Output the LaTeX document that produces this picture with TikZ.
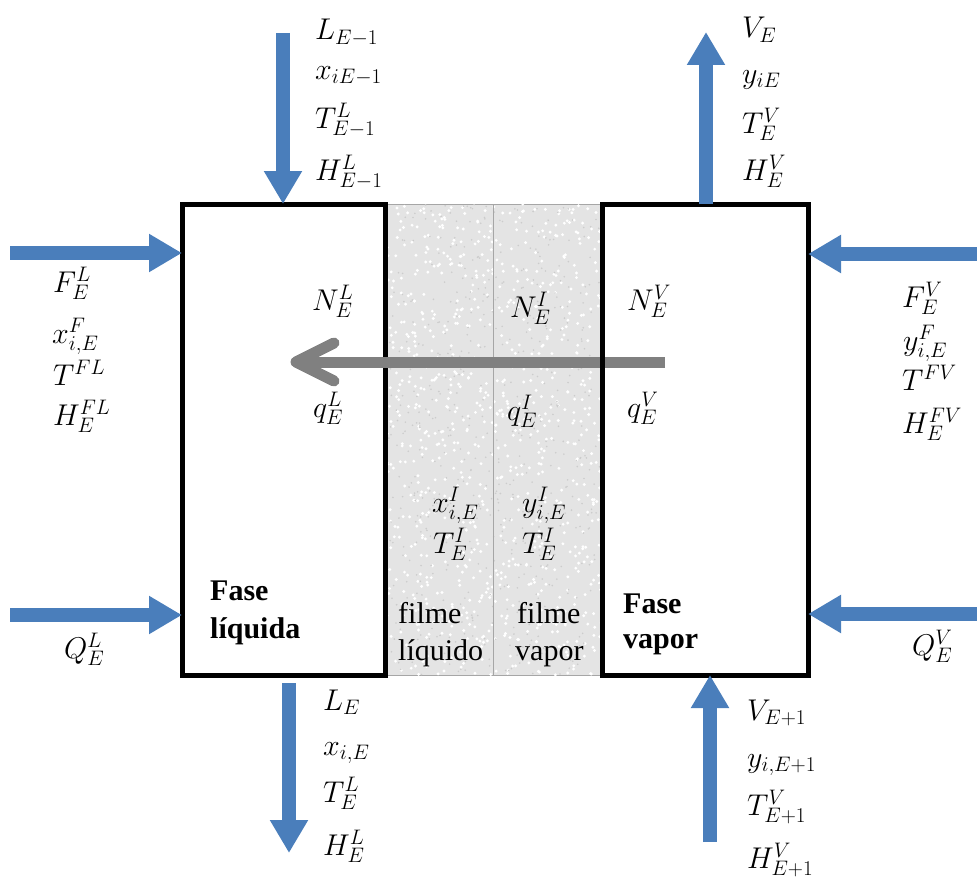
\RequirePackage{fix-cm}
\documentclass[tikz,border=0pt]{standalone}
\usepackage{fontspec}
\setmainfont{Liberation Serif}
\newfontfamily\timesfont{Liberation Serif}
\usetikzlibrary{arrows.meta}
\definecolor{flowblue}{HTML}{4A7EBB}
\definecolor{filmgray}{HTML}{E4E4E4}
\definecolor{heatgray}{HTML}{808080}
\begin{document}
\begin{tikzpicture}[x=1pt,y=-1pt,
  flow/.style={draw=flowblue, line width=14pt, -{Triangle[length=33pt,width=36pt]}},
  heat/.style={draw=heatgray, line width=11pt, line join=round},
  phase/.style={draw=black, line width=5pt, outer sep=0pt, inner sep=0pt},
  lab/.style={anchor=base west, inner sep=0pt, font=\fontsize{30}{34}\selectfont},
  txt/.style={anchor=base west, inner sep=0pt, font=\timesfont\fontsize{30}{34}\selectfont},
  btxt/.style={anchor=base west, inner sep=0pt, font=\timesfont\fontsize{30}{34}\selectfont\bfseries}]
\useasboundingbox (0,0) rectangle (977,883);
% film region
\node[fill=filmgray, draw=gray!70, line width=0.8pt, minimum width=217pt, minimum height=471pt, inner sep=0pt, outer sep=0pt] (film) at (493.5,439.5) {};
\begin{scope}
  \clip (385,204) rectangle (602,675);
  \pgfmathsetseed{7}
  \foreach \i in {1,...,900} {\fill[white] (385+217*rnd, 204+471*rnd) circle (1.6pt);}
  \foreach \i in {1,...,600} {\fill[gray!40] (385+217*rnd, 204+471*rnd) circle (0.9pt);}
\end{scope}
\draw[gray!70, line width=0.8pt] (film.north) -- (film.south);
% liquid phase box
\node[phase, minimum width=203pt, minimum height=471pt] (liq) at (283.5,439.5) {};
% heat / mass transfer arrow
\coordinate (hs) at (665,362);
\coordinate (ht) at (296,362);
\coordinate (ha) at (334,343);
\coordinate (hb) at (334,381);
\draw[heat, line cap=butt] (hs) -- (ht);
\draw[heat, line cap=round] (ha) -- (ht) -- (hb);
% vapour phase box
\node[phase, minimum width=206pt, minimum height=471pt] (vap) at (705,439.5) {};
% blue flow arrows
\coordinate (tl) at (283,33);
\draw[flow] (tl) -- (tl |- liq.north);
\coordinate (tr) at (706,32);
\draw[flow] (tr |- vap.north) -- (tr);
\coordinate (lf) at (10,253);
\draw[flow] (lf) -- (lf -| liq.west);
\coordinate (lq) at (10,615);
\draw[flow] (lq) -- (lq -| liq.west);
\coordinate (rf) at (977,254);
\draw[flow] (rf) -- (rf -| vap.east);
\coordinate (rq) at (977,614);
\draw[flow] (rq) -- (rq -| vap.east);
\coordinate (blt) at (289,683);
\coordinate (bl) at (289,853);
\draw[flow] (blt) -- (bl);
\coordinate (br) at (710,842);
\draw[flow] (br) -- (br |- vap.south);
% top-left stream
\node[lab] (t1) at (315,40) {$L_{E-1}$};
\node[lab] (t2) at (315,79) {$x_{iE-1}$};
\node[lab] (t3) at (315,128) {$T^{L}_{E-1}$};
\node[lab] (t4) at (315,180) {$H^{L}_{E-1}$};
% top-right stream
\node[lab] (u1) at (742,38) {$V_{E}$};
\node[lab] (u2) at (742,83) {$y_{iE}$};
\node[lab] (u3) at (742,133) {$T^{V}_{E}$};
\node[lab] (u4) at (742,180) {$H^{V}_{E}$};
% left feed
\node[lab] (f1) at (53,292) {$F^{L}_{E}$};
\node[lab] (f2) at (52,343) {$x^{F}_{i,E}$};
\node[lab] (f3) at (53,385) {$T^{FL}$};
\node[lab] (f4) at (53,425) {$H^{FL}_{E}$};
% right feed
\node[lab] (g1) at (902,307) {$F^{V}_{E}$};
\node[lab] (g2) at (903,350) {$y^{F}_{i,E}$};
\node[lab] (g3) at (902,390) {$T^{FV}$};
\node[lab] (g4) at (902,433) {$H^{FV}_{E}$};
% heat duties
\node[lab] (ql) at (64,658) {$Q^{L}_{E}$};
\node[lab] (qv) at (912,655) {$Q^{V}_{E}$};
% bottom-left stream
\node[lab] (b1) at (323,710) {$L_{E}$};
\node[lab] (b2) at (323,755) {$x_{i,E}$};
\node[lab] (b3) at (323,802) {$T^{L}_{E}$};
\node[lab] (b4) at (323,855) {$H^{L}_{E}$};
% bottom-right stream
\node[lab] (c1) at (747,720) {$V_{E+1}$};
\node[lab] (c2) at (747,767) {$y_{i,E+1}$};
\node[lab] (c3) at (747,815) {$T^{V}_{E+1}$};
\node[lab] (c4) at (747,868) {$H^{V}_{E+1}$};
% inside liquid box
\node[lab] (nl) at (312,310) {$N^{L}_{E}$};
\node[lab] (qql) at (313,417) {$q^{L}_{E}$};
\node[btxt] (fl1) at (210,600) {Fase};
\node[btxt] (fl2) at (210,638) {líquida};
% film
\node[lab] (ni) at (510,317) {$N^{I}_{E}$};
\node[lab] (qi) at (507,420) {$q^{I}_{E}$};
\node[lab] (xi) at (432,512) {$x^{I}_{i,E}$};
\node[lab] (yi) at (522,512) {$y^{I}_{i,E}$};
\node[lab] (tli) at (433,553) {$T^{I}_{E}$};
\node[lab] (tvi) at (522,553) {$T^{I}_{E}$};
\node[txt] (fm1) at (398,623) {filme};
\node[txt] (fm2) at (398,660) {líquido};
\node[txt] (fm3) at (517,623) {filme};
\node[txt] (fm4) at (515,660) {vapor};
% inside vapour box
\node[lab] (nv) at (627,310) {$N^{V}_{E}$};
\node[lab] (qqv) at (627,417) {$q^{V}_{E}$};
\node[btxt] (fv1) at (623,613) {Fase};
\node[btxt] (fv2) at (623,648) {vapor};
\end{tikzpicture}
\end{document}
